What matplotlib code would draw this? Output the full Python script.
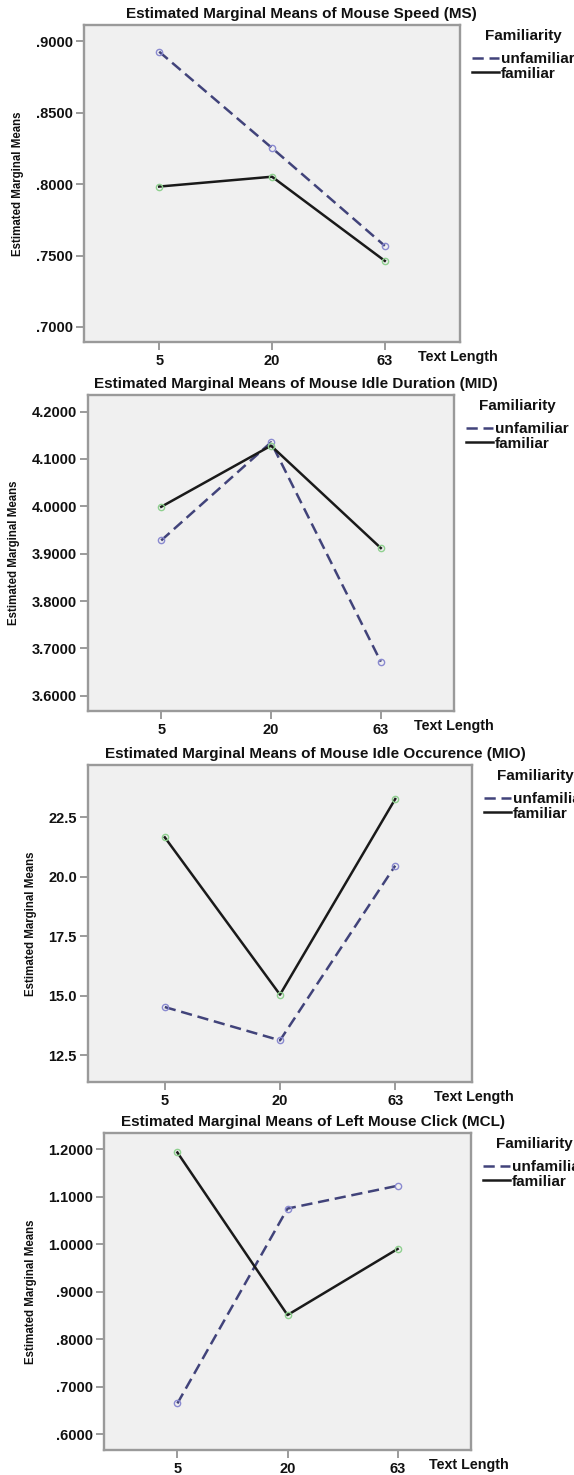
import matplotlib
matplotlib.use('Agg')
import matplotlib.pyplot as plt
from matplotlib.ticker import FuncFormatter

plt.rcParams['font.family'] = ['Liberation Sans', 'DejaVu Sans']
plt.rcParams['font.weight'] = 'bold'

# Datos (SPSS, medias marginales estimadas)
text_length = ['5', '20', '63']
groups = ['unfamiliar', 'familiar']

ms_unfamiliar = [0.8927, 0.8253, 0.7568]
ms_familiar = [0.7983, 0.8052, 0.7463]

mid_unfamiliar = [3.928, 4.135, 3.672]
mid_familiar = [3.999, 4.128, 3.912]

mio_unfamiliar = [14.53, 13.13, 20.47]
mio_familiar = [21.66, 15.05, 23.27]

mcl_unfamiliar = [0.665, 1.075, 1.123]
mcl_familiar = [1.193, 0.851, 0.990]

titles = [
    'Estimated Marginal Means of Mouse Speed (MS)',
    'Estimated Marginal Means of Mouse Idle Duration (MID)',
    'Estimated Marginal Means of Mouse Idle Occurence (MIO)',
    'Estimated Marginal Means of Left Mouse Click (MCL)',
]
yticks_list = [
    [0.70, 0.75, 0.80, 0.85, 0.90],
    [3.6, 3.7, 3.8, 3.9, 4.0, 4.1, 4.2],
    [12.5, 15.0, 17.5, 20.0, 22.5],
    [0.6, 0.7, 0.8, 0.9, 1.0, 1.1, 1.2],
]
ylims = [(0.6895, 0.9114), (3.568, 4.235), (11.38, 24.70), (0.567, 1.234)]
series = [
    (ms_unfamiliar, ms_familiar),
    (mid_unfamiliar, mid_familiar),
    (mio_unfamiliar, mio_familiar),
    (mcl_unfamiliar, mcl_familiar),
]


def fmt4(v, pos):
    s = '%.4f' % v
    if s.startswith('0'):
        s = s[1:]
    return s


def fmt1(v, pos):
    return '%.1f' % v


formatters = [fmt4, fmt4, fmt1, fmt4]

# posiciones de los ejes en pixeles (izq, der, arriba, abajo)
W, H = 574, 1475
boxes = [(84, 460, 25, 342), (88, 454, 395, 711), (88, 472, 765, 1082), (104, 471, 1133, 1450)]
title_cx = [301, 296, 315, 313]
ylabel_x = [24, 20, 37, 37]
xlabel_off = [33, 33, 39, 31]

fig = plt.figure(figsize=(W / 100, H / 100), dpi=100)
fig.patch.set_facecolor('white')

for i in range(4):
    l, r, t, b = boxes[i]
    ax = fig.add_axes([l / W, 1 - b / H, (r - l) / W, (b - t) / H])
    ax.set_facecolor('#f0f0f0')
    for sp in ax.spines.values():
        sp.set_color('#9a9a9a')
        sp.set_linewidth(1.7)

    x = range(len(text_length))
    unf, fam = series[i]
    ax.plot(x, unf, color='#41437a', lw=1.8, dashes=(4.5, 2.3),
            marker='o', ms=4.5, mfc='none', mec='#8a8ad0', mew=1.0, label=groups[0])
    ax.plot(x, fam, color='#1a1a1a', lw=1.8,
            marker='o', ms=4.5, mfc='none', mec='#8fd08f', mew=1.0, label=groups[1])

    ax.set_xlim(-2 / 3, 8 / 3)
    ax.set_ylim(*ylims[i])
    ax.set_xticks(list(x))
    ax.set_xticklabels(text_length)
    ax.set_yticks(yticks_list[i])
    ax.yaxis.set_major_formatter(FuncFormatter(formatters[i]))
    ax.tick_params(axis='both', direction='out', length=6, width=1.2, color='#8a8a8a',
                   labelsize=10.5, pad=2, labelcolor='#111111')
    ax.tick_params(axis='x', pad=2.5)
    ax.tick_params(top=False, right=False)

    ax.set_title(titles[i], fontsize=11, fontweight='bold', pad=5,
                 x=(title_cx[i] - l) / (r - l), color='#111111')
    ax.set_ylabel('Estimated Marginal Means', fontsize=8.3, fontweight='bold', color='#111111')
    ax.yaxis.set_label_coords((ylabel_x[i] - l) / (r - l), 0.5)

    ax.annotate('Text Length', xy=(2, 0), xycoords=ax.get_xaxis_transform(),
                xytext=(xlabel_off[i] * 0.72, -6.0), textcoords='offset points',
                ha='left', va='top', fontsize=10.3, fontweight='bold', color='#111111',
                annotation_clip=False)

    # leyenda
    lx = 1 + 12 / (r - l)
    ax.text(lx + 13 / (r - l), 1 - 4 / (b - t), 'Familiarity', transform=ax.transAxes,
            ha='left', va='top', fontsize=11, fontweight='bold', color='#111111')
    leg = ax.legend(loc='upper left', bbox_to_anchor=(lx, 1 - 27 / (b - t)),
                    frameon=False, borderpad=0, borderaxespad=0, handlelength=1.75,
                    handletextpad=0.12, labelspacing=0.05, fontsize=11)
    for h in leg.get_lines():
        h.set_marker('')
    for txt in leg.get_texts():
        txt.set_fontweight('bold')
        txt.set_color('#111111')

fig.savefig('out.png', dpi=100, facecolor='white')
